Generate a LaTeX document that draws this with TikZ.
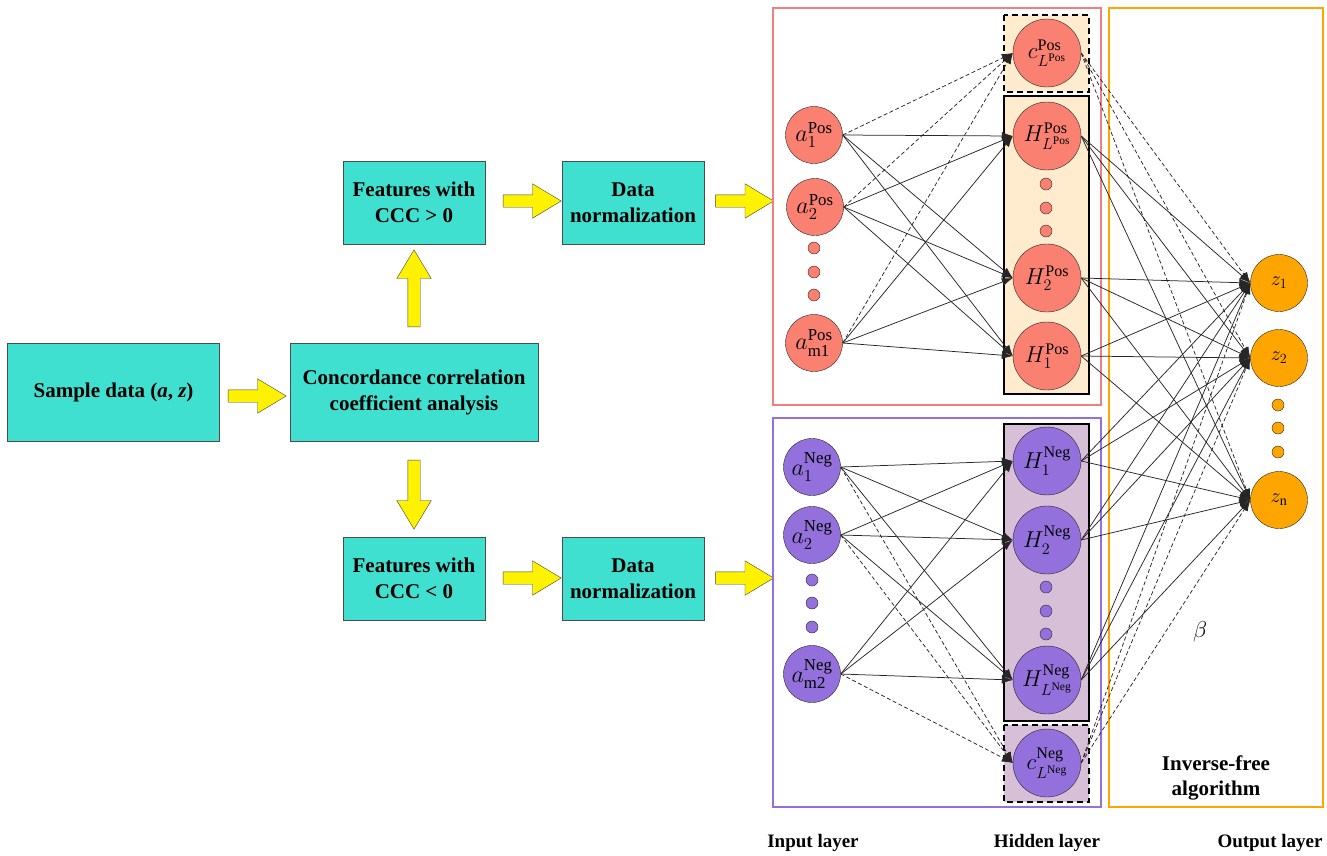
\RequirePackage{fix-cm}
\documentclass[tikz,border=0pt]{standalone}
\usepackage{amsmath}
\usepackage{fontspec}
\setmainfont{Liberation Serif}
\usepackage{tikz}
\usetikzlibrary{shapes,arrows,arrows.meta,positioning,calc}

\definecolor{boxcyan}{RGB}{64,224,208}
\definecolor{posred}{RGB}{250,128,114}
\definecolor{posframe}{RGB}{240,128,128}
\definecolor{posfill}{RGB}{255,235,205}
\definecolor{negpurple}{RGB}{147,112,219}
\definecolor{negfill}{RGB}{216,191,216}
\definecolor{outorange}{RGB}{255,165,0}

\tikzset{
  flowbox/.style={draw=black!70, fill=boxcyan, inner sep=0pt, align=center,
    font=\fontsize{21}{26}\selectfont\bfseries},
  yarrow/.style={single arrow, draw=black!75, fill=yellow, inner xsep=0pt, inner ysep=6pt,
    minimum height=58pt, single arrow head extend=11pt, single arrow tip angle=62},
  posnode/.style={circle, draw=black!85, fill=posred, minimum size=57pt, inner sep=0pt,
    font=\fontsize{24}{28}\selectfont},
  poshid/.style={posnode, minimum size=68pt, font=\fontsize{23}{27}\selectfont},
  negnode/.style={posnode, fill=negpurple},
  neghid/.style={negnode, minimum size=68pt, font=\fontsize{23}{27}\selectfont},
  outnode/.style={posnode, fill=outorange, font=\fontsize{20}{24}\selectfont},
  smalldot/.style={circle, draw=black!85, minimum size=12pt, inner sep=0pt},
  edge/.style={-{Latex[length=11pt,width=8pt]}, line width=0.75pt, black!85},
  dedge/.style={edge, dash pattern=on 4pt off 2.5pt},
  dashbox/.style={line width=1.8pt, dash pattern=on 6pt off 4pt},
  layerlabel/.style={font=\fontsize{19}{23}\selectfont\bfseries}
}

\begin{document}
\begin{tikzpicture}[x=1pt,y=-1pt]
    \useasboundingbox (0,0) rectangle (1327,855);

    % Flow chart
    \node[flowbox, minimum width=212pt, minimum height=98pt] (sample) at (113.5,392) {Sample data (\textit{a}, \textit{z})};
    \node[flowbox, minimum width=248pt, minimum height=98pt] (ccc) at (414,392) {Concordance correlation\\coefficient analysis};
    \node[flowbox, minimum width=142pt, minimum height=83pt] (fpos) at (414,202.5) {Features with\\CCC > 0};
    \node[flowbox, minimum width=142pt, minimum height=83pt] (npos) at (633,202.5) {Data\\normalization};
    \node[flowbox, minimum width=142pt, minimum height=83pt] (fneg) at (414,578.5) {Features with\\CCC < 0};
    \node[flowbox, minimum width=142pt, minimum height=83pt] (nneg) at (633,578.5) {Data\\normalization};

    \node[yarrow] (ar1) at (252,396) {};
    \node[yarrow, minimum height=77pt, rotate=90] (ar2) at (414,293.5) {};
    \node[yarrow, minimum height=69pt, rotate=-90] (ar3) at (414,489.5) {};
    \node[yarrow] (ar4) at (527,201) {};
    \node[yarrow] (ar5) at (739.5,201) {};
    \node[yarrow] (ar6) at (527,578) {};
    \node[yarrow] (ar7) at (739.5,578) {};

    % Frames
    \draw[posframe, line width=1.5pt] (773,8) rectangle (1101,405);
    \draw[negpurple, line width=1.5pt] (773,418) rectangle (1101,807);
    \draw[outorange, line width=1.5pt] (1109,8) rectangle (1323,807);
    \draw[dashbox, fill=posfill] (1004,15) rectangle (1089,92);
    \draw[line width=2pt, fill=posfill] (1004,96) rectangle (1089,394);
    \draw[line width=2pt, fill=negfill] (1004,424) rectangle (1089,721);
    \draw[dashbox, fill=negfill] (1004,725) rectangle (1089,802);

    % Positive part
    \node[posnode] (pa1) at (814,135) {$a_1^{\mathrm{Pos}}$};
    \node[posnode] (pa2) at (815,207) {$a_2^{\mathrm{Pos}}$};
    \node[posnode] (pam) at (814,343) {$a_{\mathrm{m1}}^{\mathrm{Pos}}$};
    \foreach \y [count=\n] in {248,272,295}
        \node[smalldot, fill=posred] (pd\n) at (814,\y) {};
    \node[poshid] (pc) at (1047,53) {$c_{L^{\mathrm{Pos}}}^{\mathrm{Pos}}$};
    \node[poshid] (phL) at (1047,136) {$H_{L^{\mathrm{Pos}}}^{\mathrm{Pos}}$};
    \node[poshid] (ph2) at (1047,278) {$H_2^{\mathrm{Pos}}$};
    \node[poshid] (ph1) at (1047,356) {$H_1^{\mathrm{Pos}}$};
    \foreach \y [count=\n] in {184,208,231}
        \node[smalldot, fill=posred] (phd\n) at (1046,\y) {};

    % Negative part
    \node[negnode] (na1) at (812,467) {$a_1^{\mathrm{Neg}}$};
    \node[negnode] (na2) at (812,535) {$a_2^{\mathrm{Neg}}$};
    \node[negnode] (nam) at (812,674) {$a_{\mathrm{m2}}^{\mathrm{Neg}}$};
    \foreach \y [count=\n] in {580,603,627}
        \node[smalldot, fill=negpurple] (nd\n) at (812,\y) {};
    \node[neghid] (nh1) at (1047,461) {$H_1^{\mathrm{Neg}}$};
    \node[neghid] (nh2) at (1047,540) {$H_2^{\mathrm{Neg}}$};
    \node[neghid] (nhL) at (1047,680) {$H_{L^{\mathrm{Neg}}}^{\mathrm{Neg}}$};
    \node[neghid] (nc) at (1047,763) {$c_{L^{\mathrm{Neg}}}^{\mathrm{Neg}}$};
    \foreach \y [count=\n] in {587,611,634}
        \node[smalldot, fill=negpurple] (nhd\n) at (1046,\y) {};

    % Output
    \node[outnode] (z1) at (1279,283) {$z_1$};
    \node[outnode] (z2) at (1279,358) {$z_2$};
    \node[outnode] (zn) at (1279,500) {$z_{\mathrm{n}}$};
    \foreach \y [count=\n] in {405,428,452}
        \node[smalldot, fill=outorange] (zd\n) at (1278,\y) {};

    % Connections
    \foreach \i in {pa1,pa2,pam}{
        \draw[dedge] (\i.east) -- (pc.west);
        \foreach \j in {phL,ph2,ph1}
            \draw[edge] (\i.east) -- (\j.west);
    }
    \foreach \i in {na1,na2,nam}{
        \draw[dedge] (\i.east) -- (nc.west);
        \foreach \j in {nh1,nh2,nhL}
            \draw[edge] (\i.east) -- (\j.west);
    }
    \foreach \j in {phL,ph2,ph1,nh1,nh2,nhL}{
        \foreach \k in {z1,z2,zn}
            \draw[edge] (\j.east) -- (\k.west);
    }
    \foreach \k in {z1,z2,zn}{
        \draw[dedge] (pc.east) -- (\k.west);
        \draw[dedge] (nc.east) -- (\k.west);
    }

    % Labels
    \node[font=\fontsize{23}{27}\selectfont] (beta) at (1200,632) {$\beta$};
    \node[align=center, font=\fontsize{21}{25}\selectfont\bfseries] (ifa) at (1216,778) {Inverse-free\\algorithm};
    \node[layerlabel] (lin) at (813,843) {Input layer};
    \node[layerlabel] (lhid) at (1047,843) {Hidden layer};
    \node[layerlabel] (lout) at (1270,843) {Output layer};
\end{tikzpicture}
\end{document}
